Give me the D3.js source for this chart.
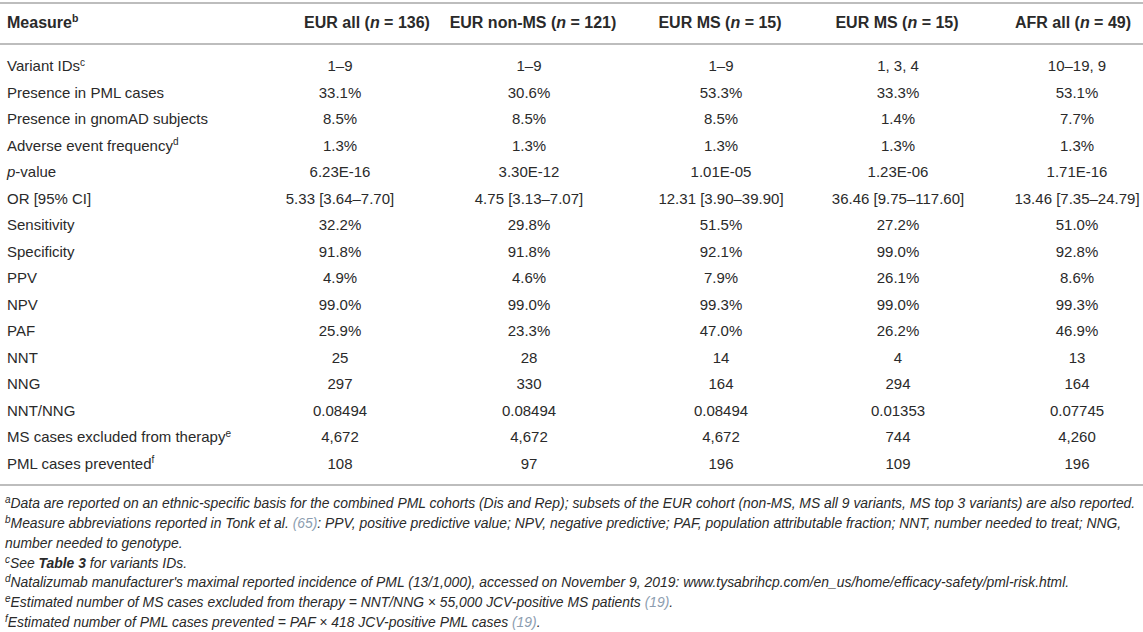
<!DOCTYPE html>
<html>
<head>
<meta charset="utf-8">
<script src="https://cdn.jsdelivr.net/npm/d3@7"></script>
<style>
  body { margin: 0; background: #fff; }
  svg { display: block; }
  text { font-family: "Liberation Sans", Arial, sans-serif; fill: #2a2a2a; }
</style>
</head>
<body>
<div class="table-area"></div>
<script>
// column keys, header labels and cohort sizes
var columns = ["eurAll", "eurNonMS", "eurMS", "eurMSTop3", "afrAll"];
var columnLabels = ["EUR all", "EUR non-MS", "EUR MS", "EUR MS", "AFR all"];
var columnN = [136, 121, 15, 15, 49];

// row labels and their footnote marks
var measures = ["Variant IDs", "Presence in PML cases", "Presence in gnomAD subjects",
    "Adverse event frequency", "p-value", "OR [95% CI]", "Sensitivity", "Specificity",
    "PPV", "NPV", "PAF", "NNT", "NNG", "NNT/NNG", "MS cases excluded from therapy",
    "PML cases prevented"];
var measureNotes = ["c", "", "", "d", "", "", "", "", "", "", "", "", "", "", "e", "f"];

// one array of values per column
var eurAll = ["1–9", "33.1%", "8.5%", "1.3%", "6.23E-16", "5.33 [3.64–7.70]", "32.2%",
    "91.8%", "4.9%", "99.0%", "25.9%", "25", "297", "0.08494", "4,672", "108"];
var eurNonMS = ["1–9", "30.6%", "8.5%", "1.3%", "3.30E-12", "4.75 [3.13–7.07]", "29.8%",
    "91.8%", "4.6%", "99.0%", "23.3%", "28", "330", "0.08494", "4,672", "97"];
var eurMS = ["1–9", "53.3%", "8.5%", "1.3%", "1.01E-05", "12.31 [3.90–39.90]", "51.5%",
    "92.1%", "7.9%", "99.3%", "47.0%", "14", "164", "0.08494", "4,672", "196"];
var eurMSTop3 = ["1, 3, 4", "33.3%", "1.4%", "1.3%", "1.23E-06", "36.46 [9.75–117.60]", "27.2%",
    "99.0%", "26.1%", "99.0%", "26.2%", "4", "294", "0.01353", "744", "109"];
var afrAll = ["10–19, 9", "53.1%", "7.7%", "1.3%", "1.71E-16", "13.46 [7.35–24.79]", "51.0%",
    "92.8%", "8.6%", "99.3%", "46.9%", "13", "164", "0.07745", "4,260", "196"];

// footnotes: **bold**, {reference}
var footnoteMarks = ["a", "b", "", "c", "d", "e", "f"];
var footnoteLines = [
    "Data are reported on an ethnic-specific basis for the combined PML cohorts (Dis and Rep); subsets of the EUR cohort (non-MS, MS all 9 variants, MS top 3 variants) are also reported.",
    "Measure abbreviations reported in Tonk et al. {(65)}: PPV, positive predictive value; NPV, negative predictive; PAF, population attributable fraction; NNT, number needed to treat; NNG,",
    "number needed to genotype.",
    "See **Table 3** for variants IDs.",
    "Natalizumab manufacturer's maximal reported incidence of PML (13/1,000), accessed on November 9, 2019: www.tysabrihcp.com/en_us/home/efficacy-safety/pml-risk.html.",
    "Estimated number of MS cases excluded from therapy = NNT/NNG × 55,000 JCV-positive MS patients {(19)}.",
    "Estimated number of PML cases prevented = PAF × 418 JCV-positive PML cases {(19)}."
];

var values = { eurAll: eurAll, eurNonMS: eurNonMS, eurMS: eurMS, eurMSTop3: eurMSTop3, afrAll: afrAll };

var width = 1143, height = 632;

var svg = d3.select(".table-area")
    .append("svg")
    .attr("width", width)
    .attr("height", height);

var rowY = d3.scalePoint().domain(measures).range([65.5, 463]);
var colX = d3.scaleOrdinal().domain(columns).range([340, 529, 721, 898, 1077]);
var headX = d3.scaleOrdinal().domain(columns).range([367, 533, 720, 897, 1073]);
var noteY = d3.scalePoint().domain(d3.range(footnoteLines.length)).range([503, 622]);

// rules
[3, 44, 485].forEach(function (y) {
    svg.append("line")
        .attr("x1", 0).attr("x2", width)
        .attr("y1", y).attr("y2", y)
        .attr("stroke", "#bdbdbd")
        .attr("stroke-width", 2);
});

// header
var head = svg.append("text")
    .attr("x", 7).attr("y", 28)
    .attr("font-size", 16).attr("font-weight", "bold");
head.append("tspan").text("Measure");
head.append("tspan").attr("font-size", 10.5).attr("dy", -6).text("b");

columns.forEach(function (c, i) {
    var t = svg.append("text")
        .attr("x", headX(c)).attr("y", 28)
        .attr("text-anchor", "middle")
        .attr("font-size", 16).attr("font-weight", "bold");
    t.append("tspan").text(columnLabels[i] + " (");
    t.append("tspan").attr("font-style", "italic").text("n");
    t.append("tspan").text(" = " + columnN[i] + ")");
});

// row labels
var labels = svg.selectAll("text.label")
    .data(measures)
    .enter().append("text")
    .attr("class", "label")
    .attr("x", 7)
    .attr("y", function (d) { return rowY(d) + 5.5; })
    .attr("font-size", 15);

labels.each(function (d, i) {
    var t = d3.select(this);
    if (d.indexOf("p-") === 0) {
        t.append("tspan").attr("font-style", "italic").text("p");
        t.append("tspan").text(d.slice(1));
    } else {
        t.append("tspan").text(d);
    }
    if (measureNotes[i]) {
        t.append("tspan").attr("font-size", 10).attr("dy", -5.5).text(measureNotes[i]);
    }
});

// cells
columns.forEach(function (c) {
    svg.selectAll("text.cell-" + c)
        .data(values[c])
        .enter().append("text")
        .attr("class", "cell-" + c)
        .attr("x", colX(c))
        .attr("y", function (d, i) { return rowY(measures[i]) + 5.5; })
        .attr("text-anchor", "middle")
        .attr("font-size", 15)
        .text(function (d) { return d; });
});

// footnotes
footnoteLines.forEach(function (line, i) {
    var t = svg.append("text")
        .attr("x", 5)
        .attr("y", noteY(i) + 5)
        .attr("font-size", 13.9)
        .attr("font-style", "italic");
    var shift = 0;
    if (footnoteMarks[i]) {
        t.append("tspan").attr("font-size", 10).attr("dy", -5).text(footnoteMarks[i]);
        shift = 5;
    }
    line.split(/(\*\*[^*]+\*\*|\{[^}]+\})/).forEach(function (part) {
        if (!part) return;
        var s;
        if (part.indexOf("**") === 0) {
            s = t.append("tspan").attr("font-weight", "bold").text(part.slice(2, -2));
        } else if (part[0] === "{") {
            s = t.append("tspan").style("fill", "#8c9db0").text(part.slice(1, -1));
        } else {
            s = t.append("tspan").text(part);
        }
        if (shift) { s.attr("dy", shift); shift = 0; }
    });
});
</script>
</body>
</html>
